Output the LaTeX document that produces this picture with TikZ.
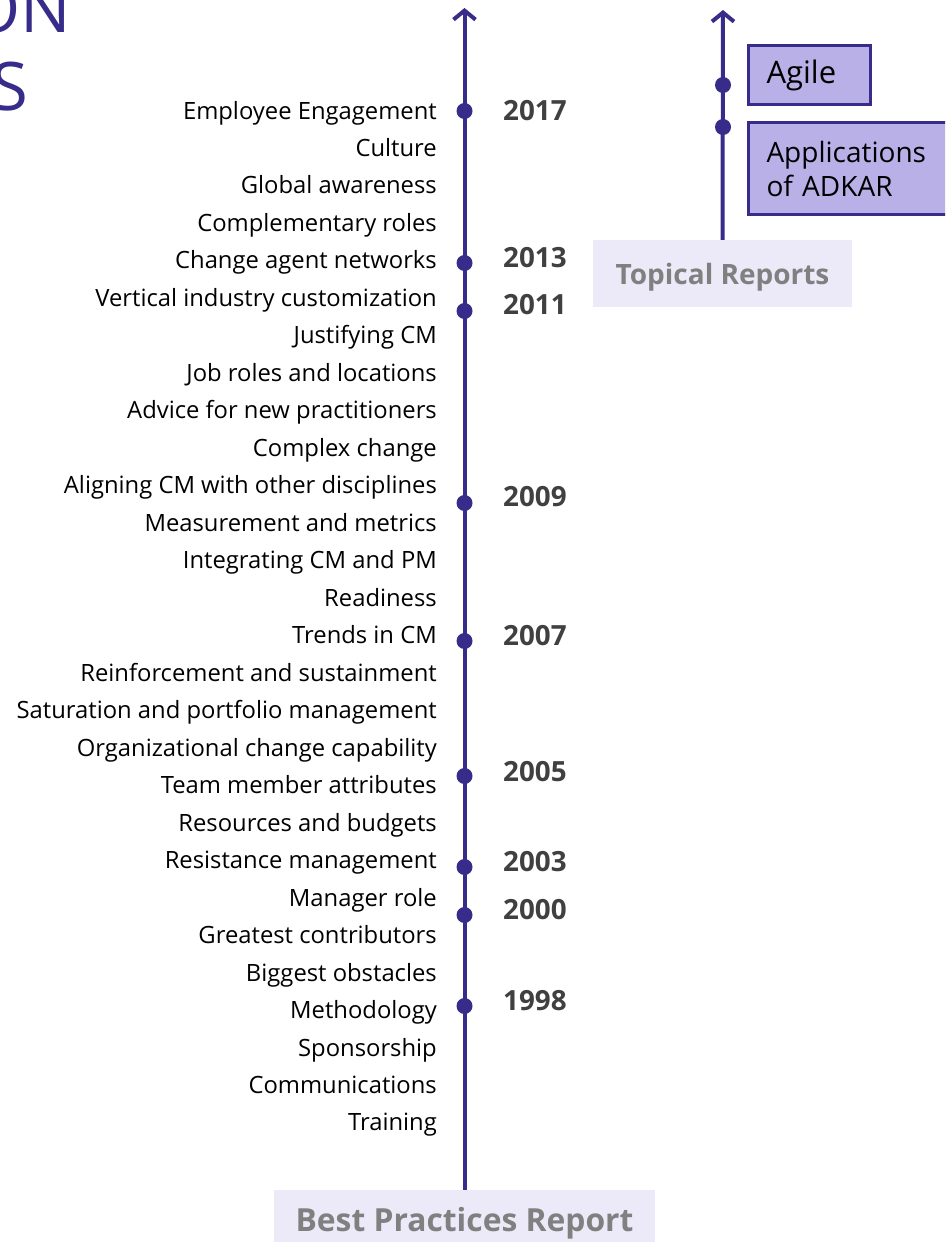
\documentclass[tikz,border=0pt]{standalone}
\usepackage{fontspec}
\setmainfont{Open Sans}
\usetikzlibrary{arrows.meta}
\definecolor{axispurple}{HTML}{372C8A}
\definecolor{boxfill}{HTML}{B8B0E6}
\definecolor{labelbg}{HTML}{ECEAF8}
\definecolor{yeargray}{HTML}{404040}
\definecolor{reportgray}{HTML}{808080}
\begin{document}
\begin{tikzpicture}[x=1pt,y=-1pt,
    topic/.style={anchor=base east,inner sep=0pt,text=black,font=\fontsize{23.8}{28}\selectfont},
    year/.style={anchor=west,inner sep=0pt,text=yeargray,font=\fontsize{27.8}{32}\selectfont\bfseries},
    dot/.style={circle,fill=axispurple,inner sep=0pt,minimum size=16pt},
    axisline/.style={axispurple,line width=4pt,-{Straight Barb[length=9pt,width=22pt]}},
    report/.style={fill=labelbg,text=reportgray,inner sep=0pt,text depth=0pt,font=\fontsize{28}{32}\selectfont\bfseries},
    topicbox/.style={draw=axispurple,line width=3pt,fill=boxfill,anchor=north west,
      align=left,inner xsep=18pt,text=black,font=\fontsize{28}{34}\selectfont}]
  \useasboundingbox (0,0) rectangle (945,1242);
  \clip (0,0) rectangle (945,1242);

  % title, cut by the page edge
  \node[anchor=base east,inner sep=0pt,text=axispurple,font=\fontsize{67}{70}\selectfont] (titleA) at (71,32) {ON};
  \node[anchor=base east,inner sep=0pt,text=axispurple,font=\fontsize{67}{70}\selectfont] (titleB) at (28,110) {S};

  % best practices timeline
  \node[report,minimum width=381pt,minimum height=58pt,font=\fontsize{31.8}{36}\selectfont\bfseries] (bpr) at (464.5,1219) {Best Practices Report};
  \coordinate (mtop) at (464.5,8);
  \draw[axisline] (bpr.north) -- (mtop);

  \foreach \yr/\d/\t in {2017/111/111,2013/263/258,2011/311/305,2009/503/497,2007/641/636,
      2005/776/772,2003/867/862,2000/915/910,1998/1006/1001} {
      \node[dot] (d\yr) at (464.5,\d) {};
      \node[year] (y\yr) at (503,\t) {\yr};
    }

  \foreach \name [count=\i from 0] in {Employee Engagement,Culture,Global awareness,
      Complementary roles,Change agent networks,Vertical industry customization,
      Justifying CM,Job roles and locations,Advice for new practitioners,Complex change,
      Aligning CM with other disciplines,Measurement and metrics,Integrating CM and PM,
      Readiness,Trends in CM,Reinforcement and sustainment,
      Saturation and portfolio management,Organizational change capability,
      Team member attributes,Resources and budgets,Resistance management,Manager role,
      Greatest contributors,Biggest obstacles,Methodology,Sponsorship,Communications,
      Training} {
      \node[topic] (t\i) at (437,119+37.48*\i) {\name};
    }

  % topical reports timeline
  \node[report,minimum width=259pt,minimum height=67pt] (trep) at (722.5,273.5) {Topical Reports};
  \coordinate (ttop) at (723,10);
  \draw[axisline] (trep.north) -- (ttop);
  \node[dot] (dagile) at (723,85) {};
  \node[dot] (dadkar) at (723,127) {};
  \node[topicbox,text width=86pt,minimum height=59pt,font=\fontsize{31}{34}\selectfont] (agile) at (747,44) {Agile};
  \node[topicbox,text width=200pt,minimum height=92pt] (adkar) at (747,121) {Applications\\of ADKAR};
\end{tikzpicture}
\end{document}
